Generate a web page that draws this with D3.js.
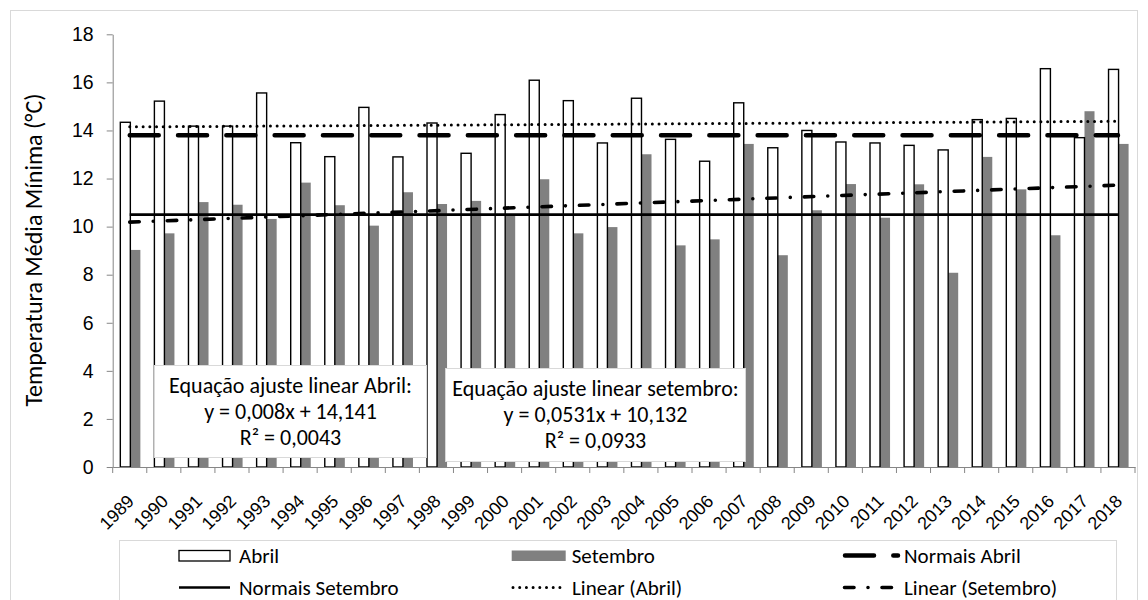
<!DOCTYPE html>
<html>
<head>
<meta charset="utf-8">
<script src="https://cdn.jsdelivr.net/npm/d3@7"></script>
<style>
  body { margin: 0; background: #fff; }
  svg { font-family: Carlito, Lato, sans-serif; }
  .axis path, .axis line { stroke: #868686; }
  .axis text { fill: #000; }
</style>
</head>
<body>
<svg width="1148" height="600"></svg>
<script>
// categories and values
const years = ['1989', '1990', '1991', '1992', '1993', '1994', '1995', '1996', '1997', '1998',
  '1999', '2000', '2001', '2002', '2003', '2004', '2005', '2006', '2007', '2008',
  '2009', '2010', '2011', '2012', '2013', '2014', '2015', '2016', '2017', '2018'];

const abril = [14.34, 15.22, 14.18, 14.18, 15.56, 13.49, 12.91, 14.96, 12.90, 14.31,
  13.05, 14.66, 16.09, 15.24, 13.48, 15.34, 13.63, 12.72, 15.15, 13.28,
  14.00, 13.52, 13.48, 13.38, 13.19, 14.45, 14.50, 16.57, 13.70, 16.54];

const setembro = [9.03, 9.72, 11.02, 10.91, 10.32, 11.83, 10.89, 10.04, 11.43, 10.94,
  11.07, 10.45, 11.97, 9.72, 9.98, 13.01, 9.22, 9.47, 13.44, 8.81,
  10.68, 11.77, 10.37, 11.76, 8.08, 12.90, 11.55, 9.64, 14.80, 13.44];

// normals and trend line ends (first year, last year)
const normaisAbril = [13.8, 13.8];
const normaisSetembro = [10.5, 10.5];
const linearAbril = [14.149, 14.381];
const linearSetembro = [10.185, 11.725];

const yTicks = [0, 2, 4, 6, 8, 10, 12, 14, 16, 18];

const boxAbril = ['Equação ajuste linear Abril:', 'y = 0,008x + 14,141', 'R² = 0,0043'];
const boxSetembro = ['Equação ajuste linear setembro:', 'y = 0,0531x + 10,132', 'R² = 0,0933'];

const svg = d3.select('svg');

// outer chart frame
svg.append('rect')
  .attr('x', 10.5).attr('y', 10.5)
  .attr('width', 1127).attr('height', 610)
  .attr('fill', 'none')
  .attr('stroke', '#d9d9d9');

// scales
const x = d3.scaleBand()
  .domain(years)
  .range([112.7, 1135])
  .padding(0);

const y = d3.scaleLinear()
  .domain([0, 18])
  .range([467, 34.3]);

const bw = x.bandwidth();
const barW = bw / 3.4;
const center = yr => x(yr) + bw / 2;

// bars
const bars = svg.append('g').attr('class', 'bars');

bars.selectAll('rect.set')
  .data(setembro)
  .enter()
  .append('rect')
  .attr('class', 'set')
  .attr('x', (d, i) => center(years[i]) + 0.6)
  .attr('y', d => y(d))
  .attr('width', barW)
  .attr('height', d => y(0) - y(d))
  .attr('fill', '#808080');

bars.selectAll('rect.abr')
  .data(abril)
  .enter()
  .append('rect')
  .attr('class', 'abr')
  .attr('x', (d, i) => center(years[i]) - barW + 0.6)
  .attr('y', d => y(d))
  .attr('width', barW)
  .attr('height', d => y(0) - y(d))
  .attr('fill', '#fff')
  .attr('stroke', '#000')
  .attr('stroke-width', 1.4);

// reference and trend lines
const ends = [years[0], years[years.length - 1]];
const line = d3.line()
  .x((d, i) => center(ends[i]))
  .y(d => y(d));

const lineStyles = [
  { data: normaisSetembro, width: 2.6, dash: null },
  { data: linearSetembro, width: 3.6, dash: '9.5,14,0,14' },
  { data: linearAbril, width: 3, dash: '0,6.7' },
  { data: normaisAbril, width: 4.5, dash: '29,19.3' }
];

lineStyles.forEach(s => {
  svg.append('path')
    .attr('d', line(s.data))
    .attr('fill', 'none')
    .attr('stroke', '#000')
    .attr('stroke-width', s.width)
    .attr('stroke-linecap', s.dash ? 'round' : 'butt')
    .attr('stroke-dasharray', s.dash);
});

// equation boxes
const drawBox = function (lines, x0, y0, w, h, firstY) {
  svg.append('rect')
    .attr('x', x0).attr('y', y0)
    .attr('width', w).attr('height', h)
    .attr('fill', '#fff')
    .attr('stroke', '#d9d9d9');
  svg.append('g')
    .selectAll('text')
    .data(lines)
    .enter()
    .append('text')
    .attr('x', x0 + w / 2)
    .attr('y', (d, i) => firstY + i * 26)
    .attr('dy', '0.35em')
    .attr('text-anchor', 'middle')
    .attr('font-size', 22)
    .text(d => d);
};
drawBox(boxAbril, 154.5, 365.5, 272, 92, 385);
drawBox(boxSetembro, 445.5, 368.5, 300, 93, 388);

// Y axis
const axisY = d3.axisLeft(y)
  .tickValues(yTicks)
  .tickSizeInner(6)
  .tickSizeOuter(0)
  .tickPadding(13);
const gy = svg.append('g')
  .attr('class', 'axis')
  .attr('transform', 'translate(112.7, 0)')
  .call(axisY);
gy.selectAll('text').attr('font-size', 19.5);

// X axis: labels at centers, ticks at category boundaries
const axisX = d3.axisBottom(x)
  .tickSize(0)
  .tickSizeOuter(0);
const gx = svg.append('g')
  .attr('class', 'axis')
  .attr('transform', 'translate(0, 467)')
  .call(axisX);
gx.selectAll('text')
  .attr('x', 0)
  .attr('y', 0)
  .attr('dy', '0.35em')
  .attr('font-size', 18)
  .attr('text-anchor', 'end')
  .attr('transform', 'translate(1, 31) rotate(-45)');
gx.selectAll('line.bound')
  .data(years.concat(['end']))
  .enter()
  .append('line')
  .attr('class', 'bound')
  .attr('x1', d => d === 'end' ? x.range()[1] : x(d))
  .attr('x2', d => d === 'end' ? x.range()[1] : x(d))
  .attr('y1', 0)
  .attr('y2', 6);

// Y axis title
svg.append('text')
  .attr('transform', 'translate(34, 250) rotate(-90)')
  .attr('text-anchor', 'middle')
  .attr('dy', '0.35em')
  .attr('font-size', 24)
  .text('Temperatura Média Mínima (°C)');

// legend
const legend = svg.append('g').attr('class', 'legend');
legend.append('rect')
  .attr('x', 119.5).attr('y', 540.5)
  .attr('width', 997).attr('height', 80)
  .attr('fill', '#fff')
  .attr('stroke', '#d9d9d9');

const legendItems = [
  { label: 'Abril', kind: 'rect', fill: '#fff', stroke: '#000', x0: 179, w: 51, row: 0 },
  { label: 'Setembro', kind: 'rect', fill: '#808080', stroke: 'none', x0: 511.7, w: 54, row: 0 },
  { label: 'Normais Abril', kind: 'line', width: 4.5, dash: '29,19.3', x0: 845, x1: 898, gap: 6, row: 0 },
  { label: 'Normais Setembro', kind: 'line', width: 2.6, dash: null, x0: 179, x1: 230, gap: 9, row: 1 },
  { label: 'Linear (Abril)', kind: 'line', width: 3, dash: '0,6.7', x0: 513, x1: 565, gap: 7, row: 1 },
  { label: 'Linear (Setembro)', kind: 'line', width: 3.6, dash: '9.5,14,0,14', x0: 844.5, x1: 892, gap: 12, row: 1 }
];
const rowY = [555.5, 587.5];

legendItems.forEach(it => {
  const cy = rowY[it.row];
  let textX;
  if (it.kind === 'rect') {
    legend.append('rect')
      .attr('x', it.x0).attr('y', cy - 5)
      .attr('width', it.w).attr('height', 10.5)
      .attr('fill', it.fill)
      .attr('stroke', it.stroke)
      .attr('stroke-width', 1.3);
    textX = it.x0 + 60;
  } else {
    legend.append('line')
      .attr('x1', it.x0).attr('x2', it.x1)
      .attr('y1', cy).attr('y2', cy)
      .attr('stroke', '#000')
      .attr('stroke-width', it.width)
      .attr('stroke-linecap', it.dash ? 'round' : 'butt')
      .attr('stroke-dasharray', it.dash);
    textX = it.x1 + it.gap;
  }
  legend.append('text')
    .attr('x', textX)
    .attr('y', cy)
    .attr('dy', '0.35em')
    .attr('font-size', 21)
    .text(it.label);
});
</script>
</body>
</html>
